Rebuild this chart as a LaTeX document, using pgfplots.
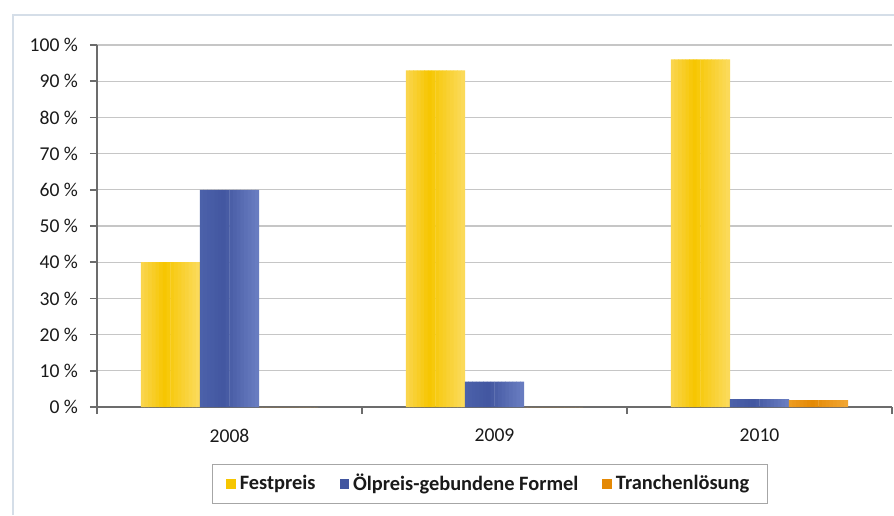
\documentclass[border=0pt]{standalone}
\usepackage{pgfplots}
\usepackage{pgfplotstable}
\pgfplotsset{compat=1.18}
\usepackage{fontspec}
\setmainfont{Carlito}
\definecolor{yelA}{HTML}{FAD652}
\definecolor{yelB}{HTML}{F6C600}
\definecolor{yelC}{HTML}{FBDB5E}
\definecolor{bluA}{HTML}{4C62AB}
\definecolor{bluB}{HTML}{4256A0}
\definecolor{bluC}{HTML}{6A7EC2}
\definecolor{oraA}{HTML}{EE9D22}
\definecolor{oraB}{HTML}{E48905}
\definecolor{oraC}{HTML}{F2A733}
\definecolor{framec}{HTML}{D5DEE8}
\definecolor{txt}{HTML}{1A1A1A}
\pgfplotstableread{
x fest oel tranche
0 40 60 0
1 93 7 0
2 96 2.2 1.9
}\datatable
% #1 column, #2 left colour, #3 middle colour, #4 right colour, #5 series index (0,1,2)
\newcommand\stripseries[5]{%
  \pgfplotsinvokeforeach{0,...,15}{%
    \pgfmathsetmacro\sh{(#5-1)*0.2226 + (##1+0.5)*0.2226/16 - 0.1113}%
    \pgfmathsetmacro\pp{(##1+0.5)/16}%
    \ifnum##1<6
      \pgfmathtruncatemacro\mixv{\pp/0.4*100}%
      \edef\mixcol{#3!\mixv!#2}%
    \else
      \pgfmathtruncatemacro\mixv{(1-\pp)/0.6*100}%
      \edef\mixcol{#3!\mixv!#4}%
    \fi
    \edef\temp{\noexpand\addplot[ybar, forget plot, draw=none, fill={\mixcol}, bar width=0.0155, bar shift=\sh] table[x=x,y=#1]{\noexpand\datatable};}%
    \temp
  }}
\begin{document}
\begin{tikzpicture}[x=1pt,y=1pt]
\useasboundingbox (0,0) rectangle (447,257.5);
\draw[color=framec, line width=1pt] (6.5,0) -- (6.5,250) -- (447,250);
\begin{axis}[
  at={(48.5pt,54pt)}, anchor=south west,
  scale only axis, width=397.5pt, height=181pt,
  xmin=-0.5, xmax=2.5, ymin=0, ymax=100,
  xtick={-0.5,0.5,1.5,2.5}, x tick label as interval,
  xticklabels={2008,2009,2010},
  ytick={0,10,...,100},
  yticklabel={\pgfmathprintnumber{\tick}~\%},
  /pgf/number format/assume math mode=true,
  axis x line*=bottom, axis y line*=left,
  axis line style={draw=gray!85!black, line width=1pt, -},
  tick align=outside, major tick length=3.5pt,
  tick style={draw=gray!85!black, line width=0.8pt},
  ymajorgrids, grid style={draw=gray!45, line width=0.6pt},
  ticklabel style={font=\fontsize{9.8}{12}\selectfont, text=txt},
  y tick label style={xshift=-2.5pt},
  x tick label style={yshift=-4pt},
  legend columns=3,
  legend style={at={(0.494,-0.2127)}, anchor=center, draw=gray!70,
    font=\bfseries\fontsize{10.2}{12}\selectfont, text=txt,
    inner xsep=7pt, inner ysep=3pt,
    /tikz/every even column/.append style={column sep=10pt}},
  legend image code/.code={\fill[#1] (0pt,-2.4pt) rectangle (4.8pt,2.4pt);},
]
\addlegendimage{fill=yelB, draw=none}
\addlegendentry{Festpreis}
\addlegendimage{fill=bluB, draw=none}
\addlegendentry{Ölpreis-gebundene Formel}
\addlegendimage{fill=oraB, draw=none}
\addlegendentry{Tranchenlösung}
\stripseries{fest}{yelA}{yelB}{yelC}{0}
\stripseries{oel}{bluA}{bluB}{bluC}{1}
\stripseries{tranche}{oraA}{oraB}{oraC}{2}
\end{axis}
\end{tikzpicture}
\end{document}
